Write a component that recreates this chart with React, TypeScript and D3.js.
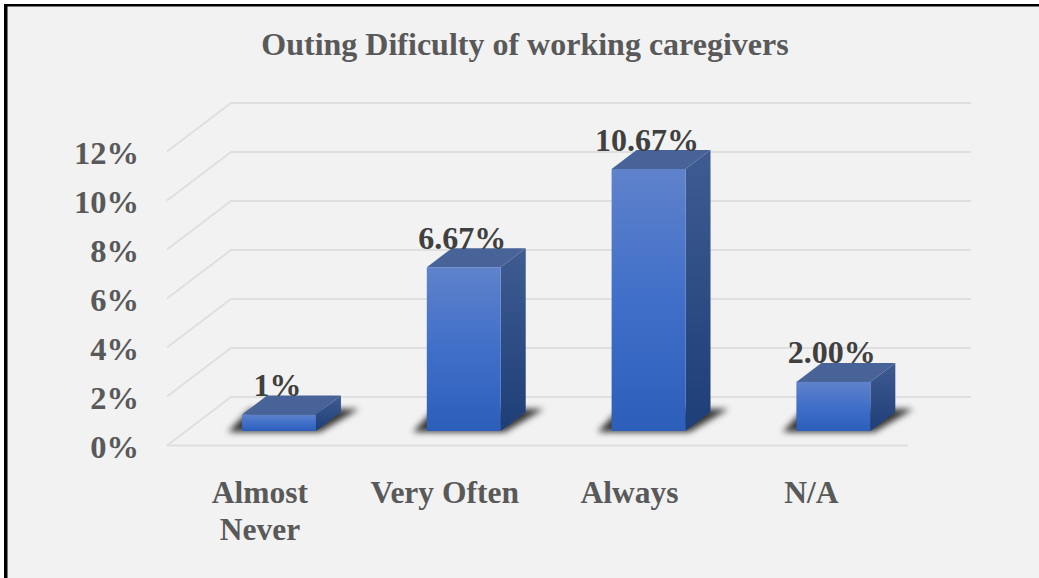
import React from "react";
import * as d3 from "d3";

const title = "Outing Dificulty of working caregivers";
const categories = ["Almost Never", "Very Often", "Always", "N/A"];
const categoryLines = [["Almost", "Never"], ["Very Often"], ["Always"], ["N/A"]];
const values = [0.67, 6.67, 10.67, 2.0];
const valueLabels = ["1%", "6.67%", "10.67%", "2.00%"];
const ticks = [0, 2, 4, 6, 8, 10, 12];

const W = 1039, H = 578;
const depthX = 25, depthY = 19;
const backY = d3.scaleLinear().domain([0, 12]).range([397, 103]);
const frontTickY = (t: number) => backY(t) + 48.5;
const barY = d3.scaleLinear().domain([0, 10.67]).range([431, 169]);
const barX = d3.scaleBand<string>().domain(categories).range([186.56, 925.76]).paddingInner(0.6).paddingOuter(0.3);
const font = "'Liberation Serif', 'Times New Roman', serif";

const poly = (pts: [number, number][]) => pts.map(p => p.join(",")).join(" ");

export default function App() {
  const bw = barX.bandwidth();
  return (
    <svg width={W} height={H} viewBox={`0 0 ${W} ${H}`} style={{ position: "absolute", left: 0, top: 0, display: "block" }} fontFamily={font} fontWeight="bold">
      <defs>
        <linearGradient id="front" x1="0" y1="0" x2="0" y2="1">
          <stop offset="0" stopColor="#5f82cb" />
          <stop offset="0.5" stopColor="#406fc9" />
          <stop offset="1" stopColor="#2c5fba" />
        </linearGradient>
        <linearGradient id="side" x1="0" y1="0" x2="0" y2="1">
          <stop offset="0" stopColor="#3f5c92" />
          <stop offset="1" stopColor="#1e3e78" />
        </linearGradient>
        <filter id="blur" x="-30%" y="-60%" width="160%" height="220%">
          <feGaussianBlur stdDeviation="3.2" />
        </filter>
      </defs>
      <rect width={W} height={H} fill="#ffffff" />
      <rect x={4} y={4} width={W - 4} height={H - 4} fill="#000000" />
      <rect x={7.5} y={6.5} width={W - 7.5} height={H - 6.5} fill="#f2f2f2" />

      <text x={525} y={55} textAnchor="middle" fontSize={32} fill="#595959">{title}</text>

      {ticks.map(t => (
        <g key={t}>
          <polyline
            points={poly([[167, frontTickY(t)], [231, backY(t)], [971, backY(t)]])}
            fill="none" stroke="#dfdfdf" strokeWidth={2}
          />
          <text x={139} y={frontTickY(t) + 12} textAnchor="end" fontSize={32.5} fill="#595959">{t}%</text>
        </g>
      ))}
      <line x1={167} x2={908} y1={frontTickY(0)} y2={frontTickY(0)} stroke="#dfdfdf" strokeWidth={2} />

      {categories.map((c, i) => {
        const x0 = barX(c)!;
        const x1 = x0 + bw;
        const y0 = barY(0);
        const yT = barY(values[i]);
        return (
          <g key={c}>
            <polygon
              points={poly([[x0 - 14, y0 + 1], [x1 + 4, y0 + 1], [x1 + depthX + 18, y0 - depthY - 3], [x1 + depthX, y0 - depthY - 3], [x0 + 8, y0 - depthY - 3]])}
              fill="#000000" fillOpacity={0.78} filter="url(#blur)"
            />
            <polygon
              points={poly([[x1, yT], [x1 + depthX, yT - depthY], [x1 + depthX, y0 - depthY], [x1, y0]])}
              fill="url(#side)"
            />
            <polygon
              points={poly([[x0, yT], [x0 + depthX, yT - depthY], [x1 + depthX, yT - depthY], [x1, yT]])}
              fill="#486397"
            />
            <rect x={x0} y={yT} width={bw} height={y0 - yT} fill="url(#front)" />
          </g>
        );
      })}

      {categories.map((c, i) => (
        <text key={c} x={barX(c)! + bw / 2 - 1.5} y={barY(values[i]) - 18.5} textAnchor="middle" fontSize={32} fill="#404040">
          {valueLabels[i]}
        </text>
      ))}

      {categories.map((c, i) =>
        categoryLines[i].map((line, j) => (
          <text key={line} x={barX(c)! + bw / 2 - (i === 3 ? 22 : 19)} y={503 + j * 36.5} textAnchor="middle" fontSize={31.5} fill="#595959">
            {line}
          </text>
        ))
      )}
    </svg>
  );
}
